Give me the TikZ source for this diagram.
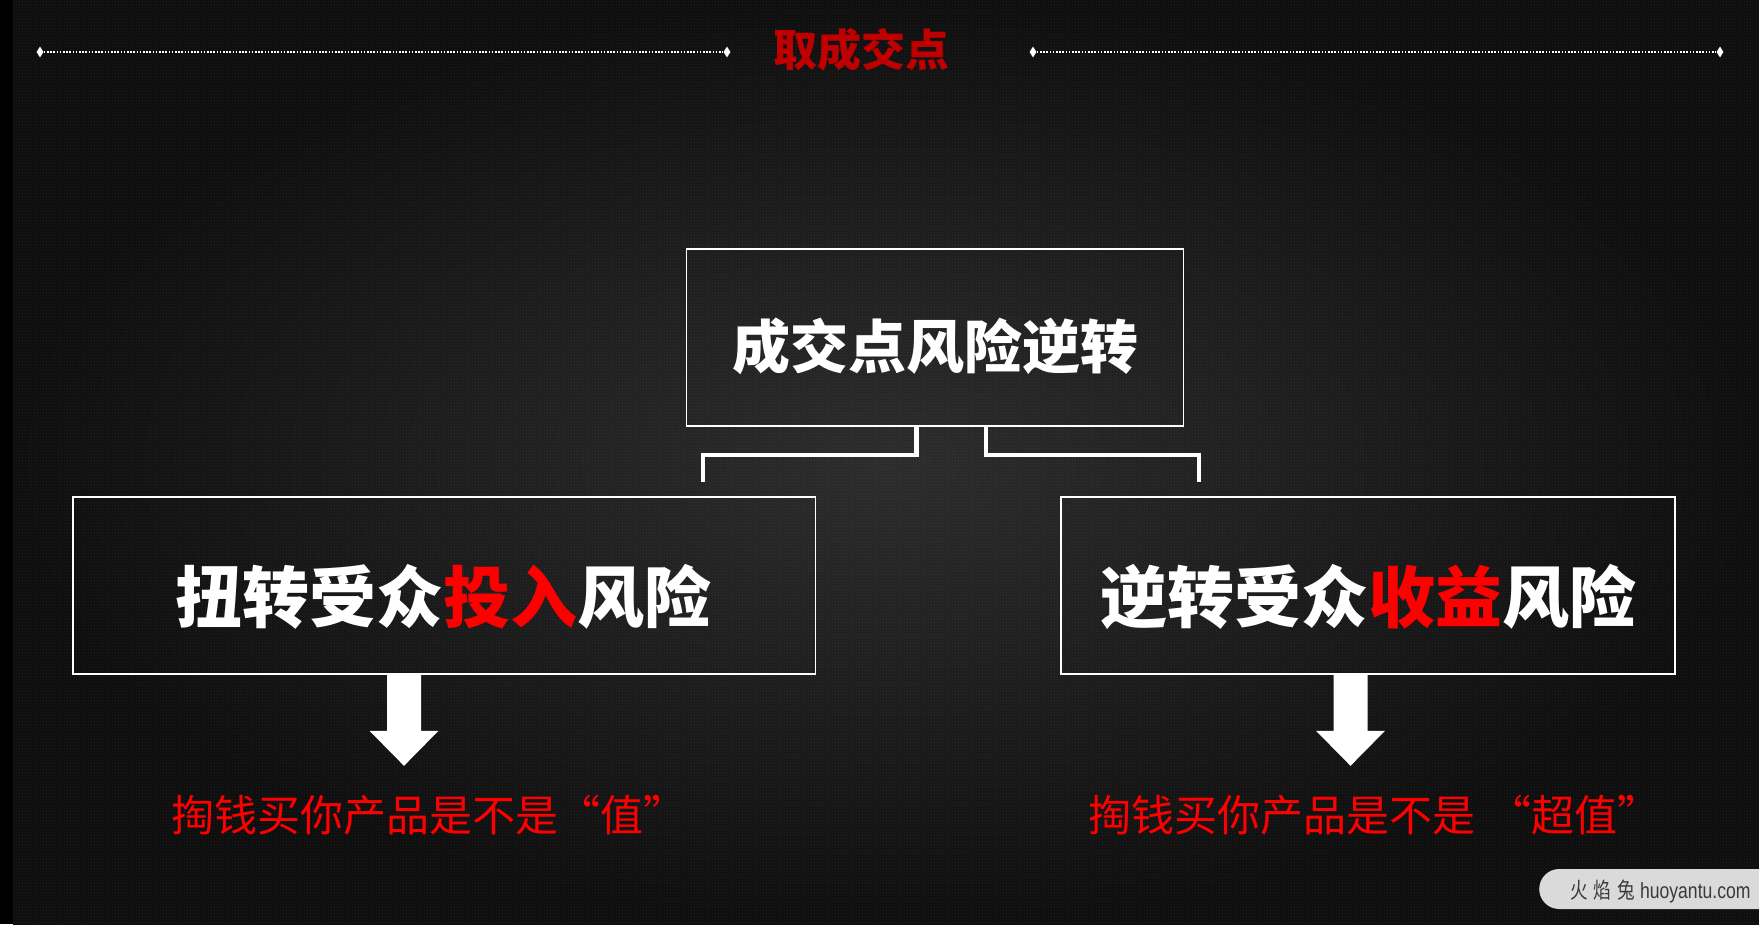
\documentclass[tikz,border=0pt]{standalone}
\usepackage{fontspec}
\newfontfamily\cjk{Noto Sans CJK SC}
\newfontfamily\wmfont{Liberation Sans}
\usetikzlibrary{shapes.geometric,patterns}
\definecolor{titlered}{HTML}{C00000}
\definecolor{hotred}{HTML}{FF0000}
\definecolor{bgin}{HTML}{2C2C2C}
\definecolor{bgout}{HTML}{0E0E0E}
\definecolor{wmgray}{HTML}{DADADA}
\definecolor{wmtext}{HTML}{3A3A3A}
\begin{document}
\begin{tikzpicture}[x=1pt,y=-1pt,
  boxstyle/.style={draw=white,line width=1.6pt,inner sep=0pt},
  bigtext/.style={text=white,font=\cjk\bfseries\fontsize{#1}{#1}\selectfont,inner sep=0pt},
  redtext/.style={text=hotred,font=\cjk\fontsize{43}{43}\selectfont,inner sep=0pt,anchor=west},
  conn/.style={draw=white,line width=4.5pt},
  dotline/.style={draw=white,line width=1.6pt,dash pattern=on 1.6pt off 1.6pt},
  dia/.style={diamond,fill=white,inner sep=0pt,minimum width=7pt,minimum height=11pt},
  fatarrow/.style={fill=white}]
\useasboundingbox (0,0) rectangle (1759,924);
% background
\fill[black] (0,0) rectangle (1759,924);
\shade[inner color=bgin,outer color=bgout] (13,0) rectangle (1759,924);
\fill[pattern=crosshatch dots,pattern color=white,opacity=0.07] (13,0) rectangle (1759,924);

% title and dotted rules
\node[text=titlered,font=\cjk\bfseries\fontsize{44}{44}\selectfont,inner sep=0pt] (title) at (861,50) {取成交点};
\node[dia] (d1) at (40,52) {};
\node[dia] (d2) at (727,52) {};
\node[dia] (d3) at (1033,52) {};
\node[dia] (d4) at (1720,52) {};
\draw[dotline] (d1) -- (d2);
\draw[dotline] (d3) -- (d4);

% boxes
\node[boxstyle,minimum width=497pt,minimum height=177pt] (top) at (935,337.5) {};
\node[boxstyle,minimum width=742.5pt,minimum height=177pt] (lbox) at (444.25,585.5) {};
\node[boxstyle,minimum width=614pt,minimum height=177pt] (rbox) at (1368,585.5) {};

\node[bigtext=58] (toptxt) at ([yshift=-9pt]top.center) {成交点风险逆转};
\node[bigtext=67] (ltxt) at (443,597) {扭转受众{\color{hotred}投入}风险};
\node[bigtext=67] (rtxt) at (1368.5,597) {逆转受众{\color{hotred}收益}风险};

% bracket connectors
\coordinate (cl) at (916.5,0);
\coordinate (cr) at (986,0);
\coordinate (el) at (703,482);
\coordinate (er) at (1199,482);
\draw[conn] (top.south -| cl) -- ++(0,28) -| (el);
\draw[conn] (top.south -| cr) -- ++(0,28) -| (er);

% down arrows
\coordinate (la) at (lbox.south -| 404,0);
\coordinate (ra) at (rbox.south -| 1350.5,0);
\foreach \a in {la,ra}{
  \fill[fatarrow] ([xshift=-17pt]\a) -- ++(0,56) -- ++(-17.5,0) -- ([yshift=-91pt]\a) -- ++(34.5,-35) -- ++(-17.5,0) -- ([xshift=17pt]\a) -- cycle;
}

% bottom red texts
\node[redtext] (lres) at (171,815) {掏钱买你产品是不是\hspace{-1pt}“值”};
\node[redtext] (rres) at (1088,815) {掏钱买你产品是不是\hspace{13pt}“超值”};

% watermark
\node[fill=wmgray,rounded corners=20pt,minimum width=260pt,minimum height=40pt,inner sep=0pt,anchor=west] (wm) at (1539,889) {};
\node[text=wmtext,font=\fontsize{22}{22}\selectfont,inner sep=0pt,anchor=west,xscale=0.8,transform shape] (wmtxt) at (1570,891) {{\cjk 火\,\,焰\,\,兔}\ \wmfont huoyantu.com};
\end{tikzpicture}
\end{document}
